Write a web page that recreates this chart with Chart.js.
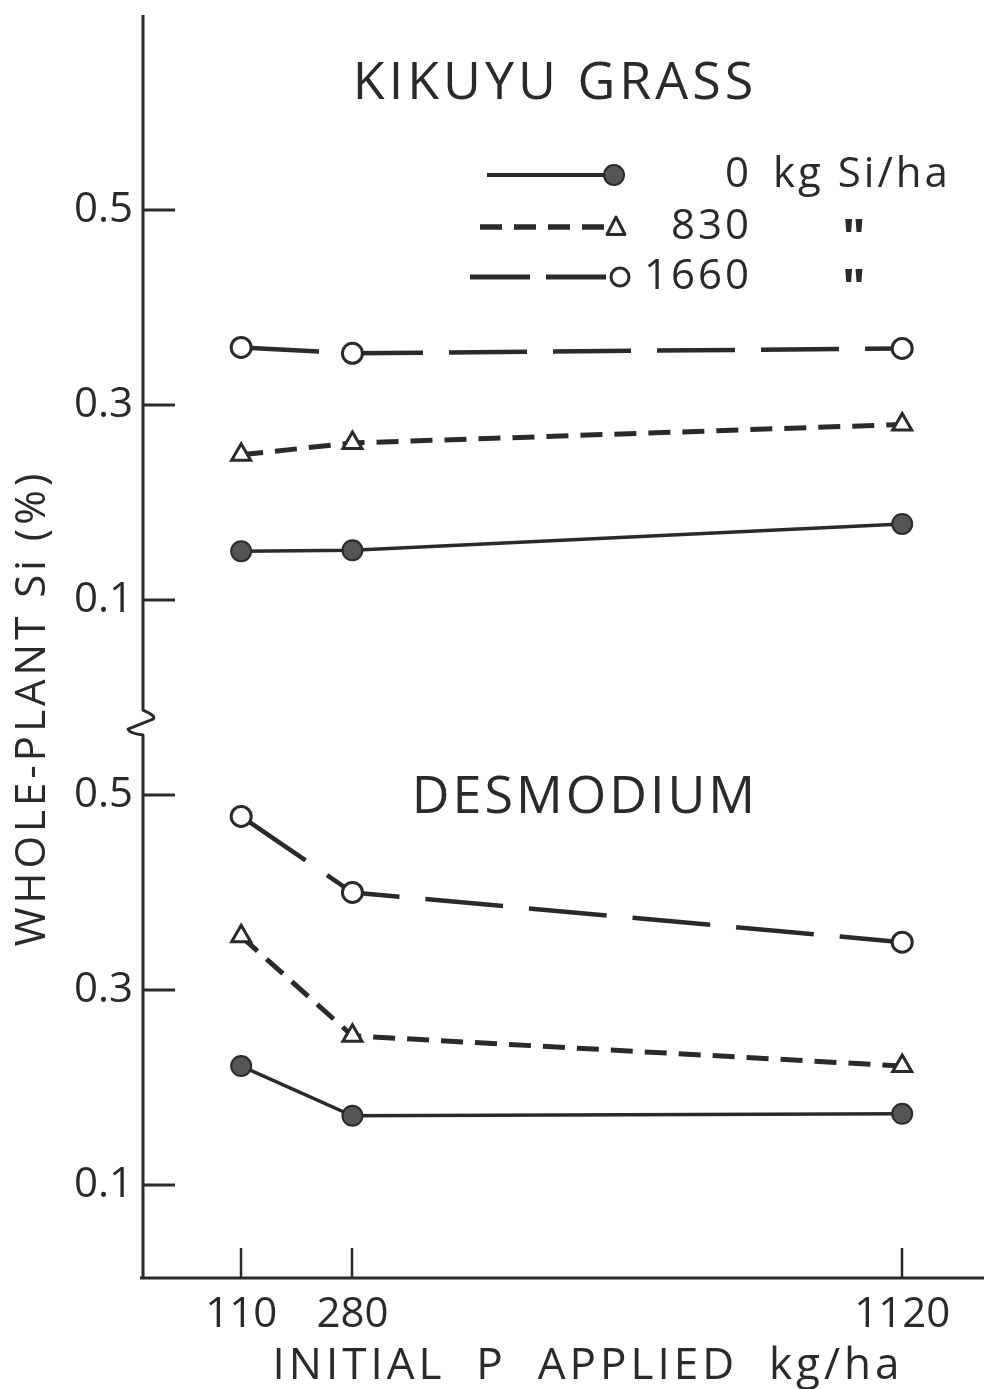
<!DOCTYPE html>
<html><head><meta charset="utf-8">
<script src="https://cdn.jsdelivr.net/npm/chart.js@4.4.1/dist/chart.umd.min.js"></script>
<style>html,body{margin:0;padding:0;background:#fff;}canvas{display:block}</style>
</head><body>
<canvas id="c" width="984" height="1389"></canvas>
<script>
// ---- data ----
const pApplied = [110, 280, 1120];
const xTickLabels = ['110', '280', '1120'];
const yTickValues = [0.1, 0.3, 0.5];
const yTickLabels = ['0.1', '0.3', '0.5'];
const panelTitles = ['KIKUYU GRASS', 'DESMODIUM'];
const seriesLabels = ['0', '830', '1660'];
const kikuyuSi0 = [0.150, 0.151, 0.178];
const kikuyuSi830 = [0.249, 0.261, 0.280];
const kikuyuSi1660 = [0.359, 0.353, 0.358];
const desmodiumSi0 = [0.222, 0.171, 0.173];
const desmodiumSi830 = [0.355, 0.253, 0.222];
const desmodiumSi1660 = [0.478, 0.400, 0.349];
const PANEL_SHIFT = 0.6;   // upper panel sits above the axis break
const BREAK_AT = 0.582;

const ink = '#2a2a2a';
const FONT = '"Open Sans", "DejaVu Sans", sans-serif';

const styles = {
  s0:    {borderColor: ink, borderWidth: 3.5, borderDash: [], pointStyle: 'circle', pointRadius: 10,
          pointBackgroundColor: '#555', pointBorderColor: ink, pointBorderWidth: 2},
  s830:  {borderColor: ink, borderWidth: 5, borderDash: [22, 12], pointStyle: 'triangle', pointRadius: 11,
          pointBackgroundColor: '#fff', pointBorderColor: ink, pointBorderWidth: 3},
  s1660: {borderColor: ink, borderWidth: 4.5, borderDash: [78, 26], pointStyle: 'circle', pointRadius: 10,
          pointBackgroundColor: '#fff', pointBorderColor: ink, pointBorderWidth: 3}
};
function ds(label, vals, shift, st) {
  return Object.assign({label, tension: 0, fill: false,
    data: vals.map((v, i) => ({x: pApplied[i], y: v + shift}))}, st);
}
function noPad(s) { s.paddingTop = 0; s.paddingBottom = 0; s.paddingLeft = 0; s.paddingRight = 0; }

const decor = {
  id: 'decor',
  afterDraw(chart) {
    const {ctx, chartArea: a, scales: {x, y}} = chart;
    ctx.save();
    ctx.strokeStyle = ink; ctx.fillStyle = ink; ctx.lineCap = 'butt'; ctx.lineJoin = 'round';
    // x axis
    ctx.lineWidth = 3;
    ctx.beginPath(); ctx.moveTo(a.left - 3, a.bottom); ctx.lineTo(a.right, a.bottom); ctx.stroke();
    // y axis with break
    const by = y.getPixelForValue(BREAK_AT);
    ctx.beginPath();
    ctx.moveTo(a.left, a.top); ctx.lineTo(a.left, by - 5);
    ctx.quadraticCurveTo(a.left + 14, by + 1, a.left + 10, by + 4);
    ctx.lineTo(a.left - 15, by + 14);
    ctx.quadraticCurveTo(a.left - 14, by + 18, a.left, by + 20);
    ctx.lineTo(a.left, a.bottom);
    ctx.stroke();
    // inner y ticks
    y.ticks.forEach(t => {
      const py = Math.round(y.getPixelForValue(t.value));
      ctx.beginPath(); ctx.moveTo(a.left, py); ctx.lineTo(a.left + 32, py); ctx.stroke();
    });
    // inner x ticks
    ctx.lineWidth = 2.5;
    x.ticks.forEach(t => {
      const px = Math.round(x.getPixelForValue(t.value));
      ctx.beginPath(); ctx.moveTo(px, a.bottom); ctx.lineTo(px, a.bottom - 30); ctx.stroke();
    });

    // texts
    ctx.textBaseline = 'middle';
    ctx.textAlign = 'center';
    ctx.font = '500 52px ' + FONT; ctx.letterSpacing = '4px';
    ctx.fillText(panelTitles[0], 555, 84);
    ctx.letterSpacing = '3px';
    ctx.fillText(panelTitles[1], 585, 798);

    // axis titles
    ctx.font = '500 44px ' + FONT; ctx.letterSpacing = '4px';
    ctx.fillText('INITIAL  P  APPLIED  kg/ha', 588, 1366);
    ctx.save();
    ctx.translate(33, 708); ctx.rotate(-Math.PI / 2);
    ctx.font = '500 42px ' + FONT; ctx.letterSpacing = '4px';
    ctx.fillText('WHOLE-PLANT Si (%)', 0, 0);
    ctx.restore();

    // legend
    const rows = [
      {y: 175, st: styles.s0, x0: 487, x1: 613, px: 614},
      {y: 227, st: styles.s830, x0: 480, x1: 606, px: 616},
      {y: 277, st: styles.s1660, x0: 470, x1: 612, px: 620}
    ];
    rows.forEach((r, i) => {
      ctx.save();
      ctx.lineWidth = r.st.borderWidth + 0.5; ctx.strokeStyle = ink;
      ctx.setLineDash(i === 2 ? [60, 16] : r.st.borderDash);
      ctx.beginPath(); ctx.moveTo(r.x0, r.y); ctx.lineTo(r.x1, r.y); ctx.stroke();
      ctx.restore();
      ctx.save();
      ctx.lineWidth = r.st.pointBorderWidth; ctx.strokeStyle = ink; ctx.fillStyle = r.st.pointBackgroundColor;
      ctx.beginPath();
      if (r.st.pointStyle === 'triangle') {
        const rr = 10;
        ctx.moveTo(r.px, r.y - rr); ctx.lineTo(r.px + rr * 0.9, r.y + rr * 0.75); ctx.lineTo(r.px - rr * 0.9, r.y + rr * 0.75); ctx.closePath();
      } else {
        ctx.arc(r.px, r.y, i === 0 ? 10 : 9, 0, Math.PI * 2);
      }
      ctx.fill(); ctx.stroke();
      ctx.restore();
      ctx.font = '500 42px ' + FONT; ctx.letterSpacing = '3px';
      ctx.textAlign = 'right';
      ctx.fillText(seriesLabels[i], 752, r.y);
      ctx.textAlign = 'left';
      if (i === 0) ctx.fillText('kg Si/ha', 773, r.y);
      else { ctx.font = 'bold 50px ' + FONT; ctx.letterSpacing = '0px'; ctx.fillText('"', 842, r.y + 14); }
    });
    ctx.restore();
  }
};

function build() {
  new Chart(document.getElementById('c'), {
    type: 'line',
    data: {
      datasets: [
        ds('Kikuyu 0', kikuyuSi0, PANEL_SHIFT, styles.s0),
        ds('Kikuyu 830', kikuyuSi830, PANEL_SHIFT, styles.s830),
        ds('Kikuyu 1660', kikuyuSi1660, PANEL_SHIFT, styles.s1660),
        ds('Desmodium 0', desmodiumSi0, 0, styles.s0),
        ds('Desmodium 830', desmodiumSi830, 0, styles.s830),
        ds('Desmodium 1660', desmodiumSi1660, 0, styles.s1660)
      ]
    },
    options: {
      responsive: false, animation: false,
      layout: {autoPadding: false, padding: {top: 15, right: 0, left: 0, bottom: 0}},
      plugins: {legend: {display: false}, tooltip: {enabled: false}, title: {display: false}},
      scales: {
        x: {
          type: 'linear', min: -40, max: 1245,
          afterBuildTicks: s => { s.ticks = pApplied.map(v => ({value: v})); },
          afterFit: s => { s.height = 111; noPad(s); },
          grid: {display: false, drawTicks: false}, border: {display: false},
          ticks: {padding: 12, color: ink, autoSkip: false, maxRotation: 0,
                  font: {family: FONT, size: 42, weight: '500'},
                  callback: (v, i) => xTickLabels[i]}
        },
        y: {
          type: 'linear', min: 0.0046, max: 1.3,
          afterBuildTicks: s => {
            s.ticks = yTickValues.concat(yTickValues.map(v => v + PANEL_SHIFT)).map(v => ({value: v}));
          },
          afterFit: s => { s.width = 143; noPad(s); },
          grid: {display: false, drawTicks: false}, border: {display: false},
          ticks: {padding: 10, color: ink, autoSkip: false,
                  font: {family: FONT, size: 42, weight: '500'},
                  callback: (v, i) => yTickLabels[i % yTickLabels.length]}
        }
      }
    },
    plugins: [decor]
  });
}
if (document.fonts && document.fonts.load) {
  document.fonts.load('42px "Open Sans"').then(build, build);
} else build();
</script>
</body></html>
